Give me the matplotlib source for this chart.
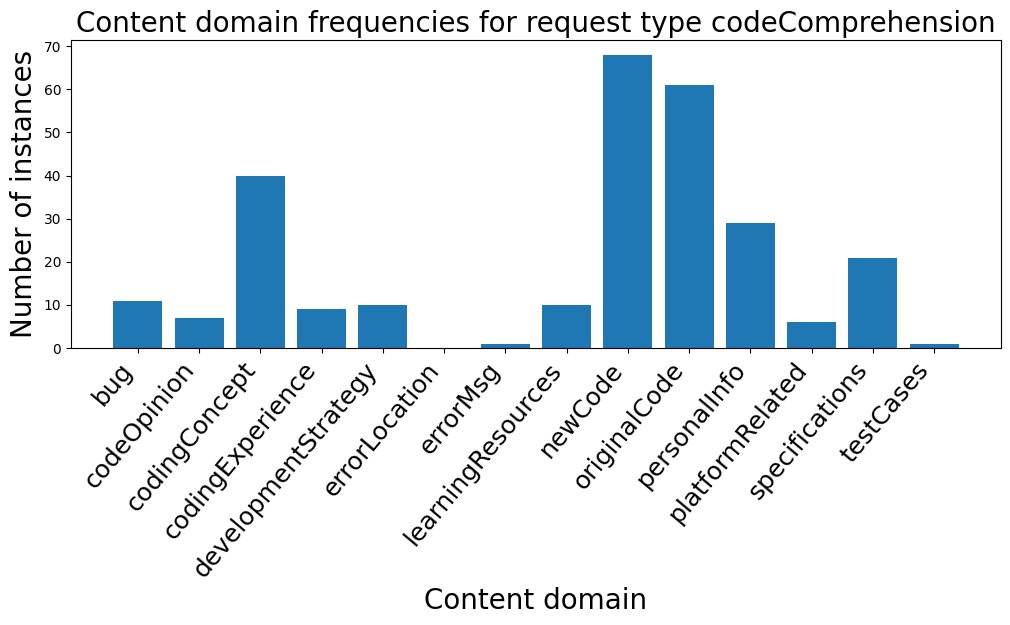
import matplotlib
matplotlib.use("Agg")
import matplotlib.pyplot as plt

categories = ["bug", "codeOpinion", "codingConcept", "codingExperience",
              "developmentStrategy", "errorLocation", "errorMsg",
              "learningResources", "newCode", "originalCode", "personalInfo",
              "platformRelated", "specifications", "testCases"]
counts = [11, 7, 40, 9, 10, 0, 1, 10, 68, 61, 29, 6, 21, 1]

fig, ax = plt.subplots(figsize=(10.1, 6.25), dpi=100)
fig.subplots_adjust(left=0.0703, right=0.991, top=0.936, bottom=0.443)

ax.bar(categories, counts, color="#1f77b4")
ax.set_title("Content domain frequencies for request type codeComprehension", fontsize=20)
ax.set_xlabel("Content domain", fontsize=20)
ax.set_ylabel("Number of instances", fontsize=20)
plt.setp(ax.get_xticklabels(), rotation=50, ha="right", fontsize=18,
         rotation_mode="default")

fig.savefig("out.png", dpi=100)
